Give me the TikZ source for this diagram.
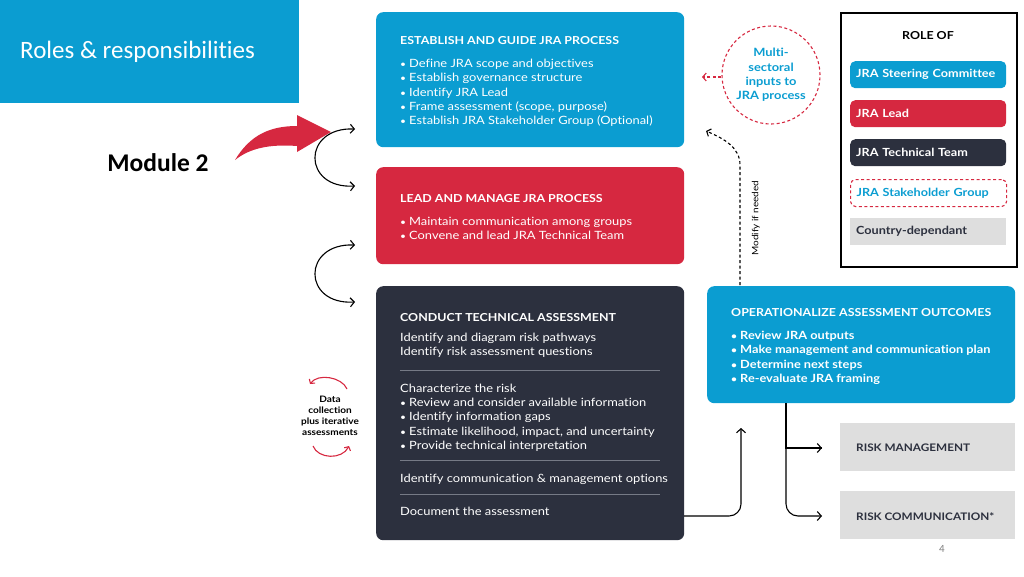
\documentclass[tikz,border=0pt]{standalone}
\usepackage{fontspec}
\setmainfont{Lato}[FakeStretch=1.13,Ligatures=NoCommon]
\newfontfamily\calibri{Carlito}[Ligatures=NoCommon]
\usetikzlibrary{arrows.meta,calc}
\definecolor{jrablue}{RGB}{11,157,209}
\definecolor{jrared}{RGB}{214,40,64}
\definecolor{jradark}{RGB}{44,48,62}
\definecolor{jragray}{RGB}{222,222,222}
\definecolor{sepgray}{RGB}{118,122,134}
\newcommand{\bul}{\makebox[9pt][l]{\scalebox{0.8}{\textbullet}}}
\newcommand{\ttl}[1]{{\fontsize{11}{14}\bfseries #1}}
\tikzset{box/.style={rounded corners=7pt,inner sep=0pt,anchor=north west,
    minimum width=308,draw=none},
    txt/.style={anchor=north west,inner sep=0pt,align=left,text=white,
    font=\fontsize{11.4}{14.3}\selectfont},
    pill/.style={rounded corners=5pt,anchor=north west,minimum height=27,
    text width=144,inner xsep=6,inner ysep=0,align=left,
    font=\fontsize{11.2}{12}\bfseries}}

\begin{document}
\begin{tikzpicture}[x=1pt,y=-1pt,
    arr/.style={line width=1.1pt,-{Straight Barb[length=4pt,width=9pt]}},
    dasharr/.style={line width=1.1pt,dashed,dash pattern=on 3pt off 2.5pt,
    -{Straight Barb[length=3.5pt,width=8pt]}},
    sep/.style={sepgray,line width=0.8pt}]
\useasboundingbox (0,0) rectangle (1024,576);

% title banner
\node[fill=jrablue,inner sep=0,minimum width=299,minimum height=103,
    anchor=north west] (banner) at (0,0) {};
\node[anchor=west,inner sep=0,text=white,font=\calibri\fontsize{25}{28}\selectfont]
    (btitle) at (20,52) {Roles \& responsibilities};
\node[inner sep=0,font=\calibri\fontsize{25.5}{28}\bfseries] (module) at (158,163) {Module 2};
\fill[jrared] (235,160) .. controls (250,135) and (270,126) .. (297,126)
    -- (297,115) -- (331,132) -- (297,152) -- (297,146)
    .. controls (270,144) and (250,148) .. (235,160) -- cycle;

% process boxes
\node[box,fill=jrablue,minimum height=135] (est) at (376,12) {};
\node[txt] (est-t) at (400,36.5) {\ttl{ESTABLISH AND GUIDE JRA PROCESS}\\[8.5pt]
    \bul Define JRA scope and objectives\\
    \bul Establish governance structure\\
    \bul Identify JRA Lead\\
    \bul Frame assessment (scope, purpose)\\
    \bul Establish JRA Stakeholder Group (Optional)};

\node[box,fill=jrared,minimum height=97] (lead) at (376,167) {};
\node[txt] (lead-t) at (400,194.5) {\ttl{LEAD AND MANAGE JRA PROCESS}\\[8.5pt]
    \bul Maintain communication among groups\\
    \bul Convene and lead JRA Technical Team};

\node[box,fill=jradark,minimum height=254] (tech) at (376,286) {};
\node[txt] (tech-t1) at (400,313.5) {\ttl{CONDUCT TECHNICAL ASSESSMENT}\\[5.5pt]
    Identify and diagram risk pathways\\
    Identify risk assessment questions};
\node[txt] (tech-t2) at (400,383.5) {Characterize the risk\\
    \bul Review and consider available information\\
    \bul Identify information gaps\\
    \bul Estimate likelihood, impact, and uncertainty\\
    \bul Provide technical interpretation};
\node[txt] (tech-t3) at (400,473.5) {Identify communication \& management options};
\node[txt] (tech-t4) at (400,506.5) {Document the assessment};
\foreach \y in {370,460,494}
    \draw[sep] (400,\y) -- (660,\y);

\node[box,fill=jrablue,minimum height=117] (ops) at (707,286) {};
\node[txt,font=\fontsize{11.3}{14.3}\bfseries] (ops-t) at (731,308.5)
    {\ttl{OPERATIONALIZE ASSESSMENT OUTCOMES}\\[8.5pt]
    \bul Review JRA outputs\\
    \bul Make management and communication plan\\
    \bul Determine next steps\\
    \bul Re-evaluate JRA framing};

\node[box,rounded corners=0,fill=jragray,minimum width=175,minimum height=48]
    (rman) at (840,423) {};
\node[anchor=west,inner sep=0,text=jradark,font=\fontsize{10.4}{12}\bfseries]
    (rman-t) at (856,448) {RISK MANAGEMENT};
\node[box,rounded corners=0,fill=jragray,minimum width=175,minimum height=48]
    (rcom) at (840,491) {};
\node[anchor=west,inner sep=0,text=jradark,font=\fontsize{10.4}{12}\bfseries]
    (rcom-t) at (856,517) {RISK COMMUNICATION*};

% side loops
\coordinate (ca) at (355,129);
\coordinate (cb) at (355,186);
\coordinate (cc) at (355,245);
\coordinate (cd) at (355,302);
\draw[arr,{Straight Barb[length=4pt,width=9pt]}-{Straight Barb[length=4pt,width=9pt]}]
    (ca) .. controls (302,127) and (302,189) .. (cb);
\draw[arr,{Straight Barb[length=4pt,width=9pt]}-{Straight Barb[length=4pt,width=9pt]}]
    (cc) .. controls (302,243) and (302,305) .. (cd);

% data collection
\node[inner sep=0,align=center,font=\fontsize{8.9}{11}\bfseries] (data) at (330,416)
    {Data\\collection\\plus iterative\\assessments};
\coordinate (dt1) at (347,389);
\coordinate (dt2) at (310,384);
\coordinate (db1) at (313,446);
\coordinate (db2) at (349,446);
\draw[jrared,line width=1.1pt,-{Straight Barb[length=3pt,width=7pt]}]
    (dt1) .. controls (342,377) and (318,373) .. (dt2);
\draw[jrared,line width=1.1pt,-{Straight Barb[length=3pt,width=7pt]}]
    (db1) .. controls (318,459) and (342,460) .. (db2);

% flow to outcomes
\coordinate (tech-out) at (684,516);
\coordinate (ops-in) at (741,428);
\coordinate (split) at (786,403);
\coordinate (rman-in) at (822,448);
\coordinate (rcom-in) at (822,516);
\draw[arr,rounded corners=12pt] (tech-out) -| (ops-in);
\draw[line width=1.1pt] (split) |- (rman-in);
\draw[arr] ($(split |- rman-in)+(10,0)$) -- (rman-in);
\draw[arr,rounded corners=12pt] (split) |- (rcom-in);

% modify loop
\coordinate (mod-a) at (740,285);
\coordinate (mod-b) at (740,165);
\coordinate (mod-c) at (706,131);
\draw[dasharr] (mod-a) -- (mod-b) .. controls (740,148) and (725,139) .. (mod-c);
\node[rotate=90,inner sep=0,font=\fontsize{8.8}{10}\selectfont] (mod-t) at (756,218)
    {Modify if needed};

% multi-sectoral inputs
\node[circle,draw=jrared,dashed,dash pattern=on 3pt off 2.5pt,line width=1.1pt,
    minimum size=98,inner sep=0,align=center,text=jrablue,
    font=\fontsize{11.4}{14.2}\bfseries] (multi) at (771,75)
    {Multi-\\sectoral\\inputs to\\JRA process};
\coordinate (multi-out) at (702,77);
\draw[dasharr,jrared] (multi.west |- multi-out) -- (multi-out);

% legend
\node[draw,line width=1.6pt,anchor=north west,inner sep=0,minimum width=176,
    minimum height=254] (legend) at (840,12) {};
\node[inner sep=0,font=\fontsize{11}{12}\bfseries] (legend-t) at (928,36) {ROLE OF};
\node[pill,fill=jrablue,text=white] (steer) at (850,61) {JRA Steering Committee};
\node[pill,fill=jrared,text=white] (jlead) at (850,100) {JRA Lead};
\node[pill,fill=jradark,text=white] (team) at (850,139) {JRA Technical Team};
\node[pill,draw=jrared,dashed,dash pattern=on 3pt off 2.5pt,line width=1.1pt,
    text=jrablue] (stake) at (850,179) {JRA Stakeholder Group};
\node[pill,rounded corners=0,fill=jragray,text=jradark] (country) at (850,218)
    {Country-dependant};

\node[inner sep=0,text=gray,font=\calibri\fontsize{11}{13}\selectfont] (page) at (942,549) {4};
\end{tikzpicture}
\end{document}
